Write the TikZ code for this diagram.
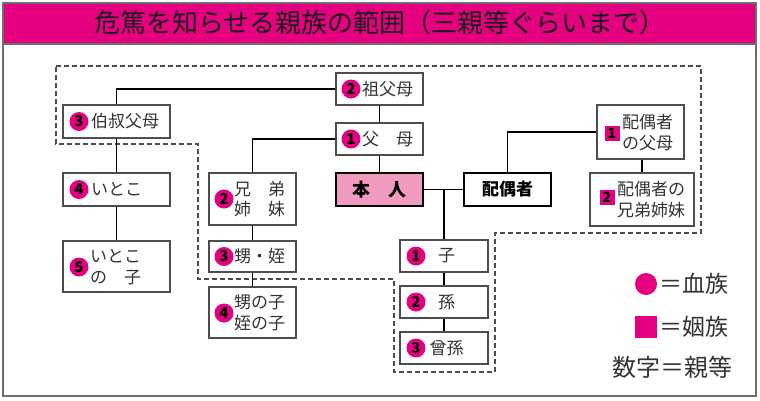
\documentclass[tikz,border=0pt]{standalone}
\usepackage{fontspec}
\setmainfont{Noto Sans CJK JP}
\definecolor{mag}{HTML}{E4007F}
\definecolor{pinkfill}{HTML}{F29BC1}
\definecolor{boxgray}{HTML}{4D4D4D}
\definecolor{textc}{HTML}{333333}
\definecolor{framegray}{HTML}{6E6E6E}
\definecolor{titletext}{HTML}{1A1A1A}
\begin{document}
\begin{tikzpicture}[x=1pt,y=-1pt,
  box/.style={draw=boxgray, line width=1.3pt, fill=white, inner sep=0pt},
  mainbox/.style={draw=black, line width=2pt, inner sep=0pt},
  link/.style={draw=black, line width=1.8pt},
  txt/.style={inner sep=0pt, text=textc, font=\fontsize{17}{20.5}\selectfont, align=left},
  btxt/.style={inner sep=0pt, text=black, font=\fontsize{18}{20}\selectfont\bfseries},
  badge/.style={circle, fill=mag, minimum size=19pt, inner sep=0pt, font=\fontsize{15}{15}\selectfont\bfseries, text=black},
  sqbadge/.style={fill=mag, minimum width=15pt, minimum height=15pt, inner sep=0pt, font=\fontsize{14}{14}\selectfont\bfseries, text=black},
  rangeline/.style={draw=boxgray, line width=1.2pt, dash pattern=on 5pt off 3pt},
  legtxt/.style={inner sep=0pt, text=textc, font=\fontsize{23}{23}\selectfont},
]
\useasboundingbox (0,0) rectangle (760,400);
% frame and title
\fill[white] (0,0) rectangle (760,400);
\draw[framegray, line width=1.8pt] (3,3) rectangle (756,396);
\draw[framegray, line width=1.5pt, fill=mag] (3,3) rectangle (756,44);
\node[inner sep=0pt, text=titletext, font=\fontsize{26}{26}\selectfont] (title) at (380,23) {危篤を知らせる親族の範囲（三親等ぐらいまで）};

% dashed range
\draw[rangeline] (56,66) -- (701,66) -- (701,233) -- (495,233) -- (495,372) -- (394,372) -- (394,279) -- (198,279) -- (198,144) -- (56,144) -- cycle;

% boxes
\node[box, minimum width=87pt, minimum height=32pt] (gp) at (379.5,89) {};
\node[box, minimum width=87pt, minimum height=32pt] (par) at (379.5,139) {};
\node[mainbox, fill=pinkfill, minimum width=87pt, minimum height=33pt] (self) at (379.5,189.5) {};
\node[mainbox, fill=white, minimum width=87pt, minimum height=33pt] (sp) at (507.5,189.5) {};
\node[box, minimum width=107pt, minimum height=33pt] (uncle) at (116.5,121.5) {};
\node[box, minimum width=107pt, minimum height=33pt] (cousin) at (116.5,189.5) {};
\node[box, minimum width=107pt, minimum height=51pt] (cousinch) at (116.5,266.5) {};
\node[box, minimum width=87pt, minimum height=52pt] (sib) at (252.5,199) {};
\node[box, minimum width=87pt, minimum height=31pt] (neph) at (252.5,256.5) {};
\node[box, minimum width=87pt, minimum height=51pt] (nephch) at (252.5,312.5) {};
\node[box, minimum width=88pt, minimum height=32pt] (child) at (444,256) {};
\node[box, minimum width=88pt, minimum height=32pt] (gchild) at (444,302) {};
\node[box, minimum width=88pt, minimum height=32pt] (ggchild) at (444,348) {};
\node[box, minimum width=87pt, minimum height=54pt] (spp) at (640.5,132) {};
\node[box, minimum width=104pt, minimum height=53pt] (spsib) at (642,199.5) {};

% connectors
\draw[link] (gp.west) -| (uncle.north);
\draw[link] (gp.south) -- (par.north);
\draw[link] (par.west) -| (sib.north);
\draw[link] (par.south) -- (self.north);
\draw[link] (self.east) -- (sp.west);
\coordinate (jn) at (self.east -| child.north);
\draw[link] (jn) -- (child.north);
\draw[link] (sp.north) |- (spp.west);
\coordinate (spj) at (642,0);
\draw[link] (spp.south -| spj) -- (spsib.north -| spj);
\draw[link] (uncle.south) -- (cousin.north);
\draw[link] (cousin.south) -- (cousinch.north);
\draw[link] (sib.south) -- (neph.north);
\draw[link] (neph.south) -- (nephch.north);
\draw[link] (child.south) -- (gchild.north);
\draw[link] (gchild.south) -- (ggchild.north);

% badges
\node[badge] (bgp) at (351,89) {2};
\node[badge] (bpar) at (351,139) {1};
\node[badge] (buncle) at (79,121.5) {3};
\node[badge] (bcousin) at (79,189.5) {4};
\node[badge] (bcousinch) at (79,267) {5};
\node[badge] (bsib) at (224,199) {2};
\node[badge] (bneph) at (224,256.5) {3};
\node[badge] (bnephch) at (224,313) {4};
\node[badge] (bchild) at (416,256) {1};
\node[badge] (bgchild) at (416,302) {2};
\node[badge] (bggchild) at (416,348) {3};
\node[sqbadge] (bspp) at (612,133) {1};
\node[sqbadge] (bspsib) at (607,197) {2};

% texts
\node[txt, anchor=west] (tgp) at (362,89) {祖父母};
\node[txt, anchor=west] (tpar) at (362,139) {父　母};
\node[btxt] (tself) at (379.5,189.5) {本　人};
\node[btxt, font=\fontsize{17}{20}\selectfont\bfseries] (tsp) at (507.5,189.5) {配偶者};
\node[txt, anchor=west] (tuncle) at (91,121.5) {伯叔父母};
\node[txt, anchor=west] (tcousin) at (91,189.5) {いとこ};
\node[txt, anchor=west] (tcousinch) at (90,267) {いとこ\\の　子};
\node[txt, anchor=west] (tsib) at (234,199) {兄　弟\\姉　妹};
\node[txt, anchor=west] (tneph) at (234,256.5) {甥・姪};
\node[txt, anchor=west] (tnephch) at (234,313) {甥の子\\姪の子};
\node[txt] (tchild) at (446.5,256) {子};
\node[txt] (tgchild) at (446.5,302) {孫};
\node[txt] (tggchild) at (446.5,348) {曾孫};
\node[txt, anchor=west] (tspp) at (622,132.5) {配偶者\\の父母};
\node[txt, anchor=west] (tspsib) at (617,199.5) {配偶者の\\兄弟姉妹};

% legend
\node[circle, fill=mag, minimum size=22pt, inner sep=0pt] (lgc) at (646,284) {};
\node[legtxt, anchor=west] (lgct) at (659,284) {＝血族};
\node[fill=mag, minimum size=22pt, inner sep=0pt] (lgs) at (646,327) {};
\node[legtxt, anchor=west] (lgst) at (659,327) {＝姻族};
\node[legtxt, anchor=east, font=\fontsize{24}{24}\selectfont] (lgn) at (733,367) {数字＝親等};
\end{tikzpicture}
\end{document}
